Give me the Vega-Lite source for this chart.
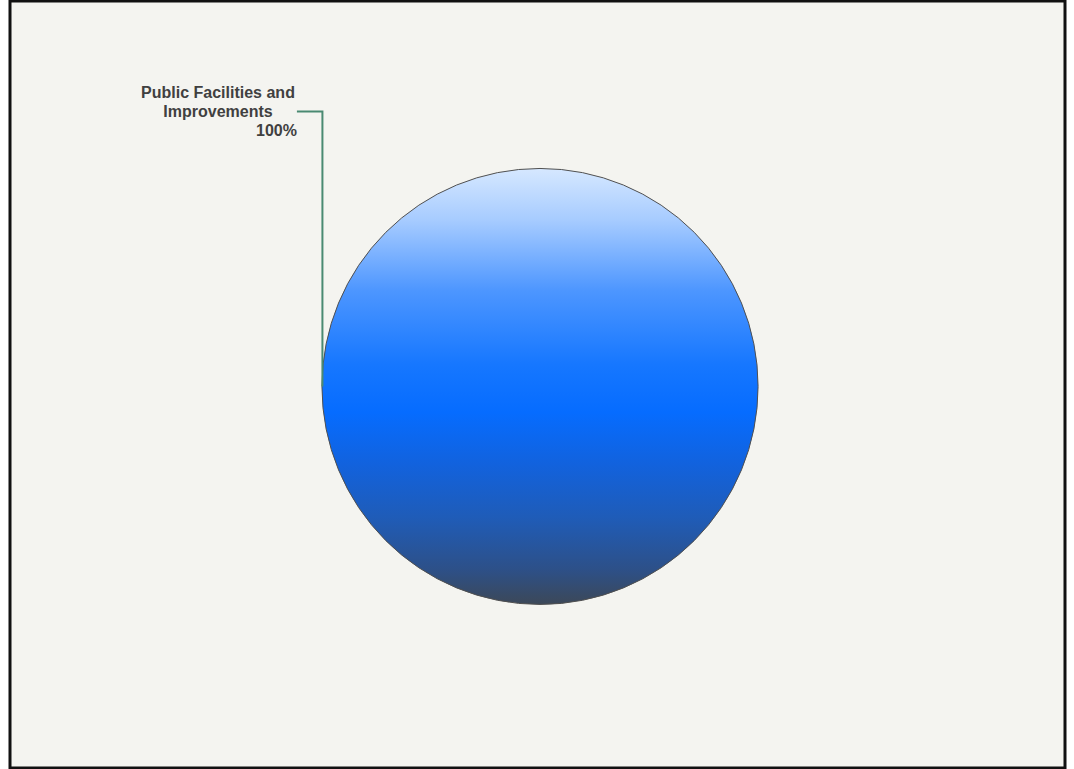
{
  "$schema": "https://vega.github.io/schema/vega-lite/v6.json",
  "width": 1055,
  "height": 767,
  "padding": {"left": 10, "top": 1, "right": 9, "bottom": 1},
  "autosize": {"type": "none"},
  "background": "#ffffff",
  "config": {
    "view": {"stroke": "#111111", "strokeWidth": 3, "fill": "#f4f4f0"},
    "axis": {"disable": true}
  },
  "datasets": {
    "slices": [
      {"category": "Public Facilities and Improvements", "value": 100, "x": 0, "y": 0}
    ],
    "leader": [
      {"x": -1.115, "y": 1.261, "order": 1},
      {"x": -0.998, "y": 1.261, "order": 2},
      {"x": -0.998, "y": 0.0, "order": 3}
    ],
    "labelLines": [
      {"text": "Public Facilities and", "x": -1.477, "y": 1.323},
      {"text": "Improvements", "x": -1.477, "y": 1.236}
    ],
    "labelPct": [
      {"text": "100%", "x": -1.1147, "y": 1.149}
    ]
  },
  "layer": [
    {
      "data": {"name": "slices"},
      "mark": {
        "type": "arc",
        "outerRadius": 218,
        "stroke": "#505050",
        "strokeWidth": 1,
        "fill": {
          "gradient": "linear",
          "x1": 0, "y1": 0, "x2": 0, "y2": 1,
          "stops": [
            {"offset": 0, "color": "#d6e8ff"},
            {"offset": 0.12, "color": "#a6cbff"},
            {"offset": 0.28, "color": "#4d96ff"},
            {"offset": 0.45, "color": "#1677ff"},
            {"offset": 0.56, "color": "#066cff"},
            {"offset": 0.68, "color": "#1262dd"},
            {"offset": 0.8, "color": "#1f5cb8"},
            {"offset": 0.92, "color": "#2d5088"},
            {"offset": 1, "color": "#3c4858"}
          ]
        }
      },
      "encoding": {
        "theta": {"field": "value", "type": "quantitative", "stack": true},
        "x": {"field": "x", "type": "quantitative", "scale": {"domain": [-2.431, 2.408], "nice": false, "zero": false}, "axis": null},
        "y": {"field": "y", "type": "quantitative", "scale": {"domain": [-1.75, 1.768], "nice": false, "zero": false}, "axis": null}
      }
    },
    {
      "data": {"name": "leader"},
      "mark": {"type": "line", "color": "#4a8a72", "strokeWidth": 2},
      "encoding": {
        "x": {"field": "x", "type": "quantitative"},
        "y": {"field": "y", "type": "quantitative"},
        "order": {"field": "order", "type": "ordinal"}
      }
    },
    {
      "data": {"name": "labelLines"},
      "mark": {"type": "text", "align": "center", "baseline": "alphabetic", "font": "Liberation Sans", "fontWeight": "bold", "fontSize": 16, "color": "#404040"},
      "encoding": {
        "x": {"field": "x", "type": "quantitative"},
        "y": {"field": "y", "type": "quantitative"},
        "text": {"field": "text"}
      }
    },
    {
      "data": {"name": "labelPct"},
      "mark": {"type": "text", "align": "right", "baseline": "alphabetic", "font": "Liberation Sans", "fontWeight": "bold", "fontSize": 16, "color": "#404040"},
      "encoding": {
        "x": {"field": "x", "type": "quantitative"},
        "y": {"field": "y", "type": "quantitative"},
        "text": {"field": "text"}
      }
    }
  ]
}
